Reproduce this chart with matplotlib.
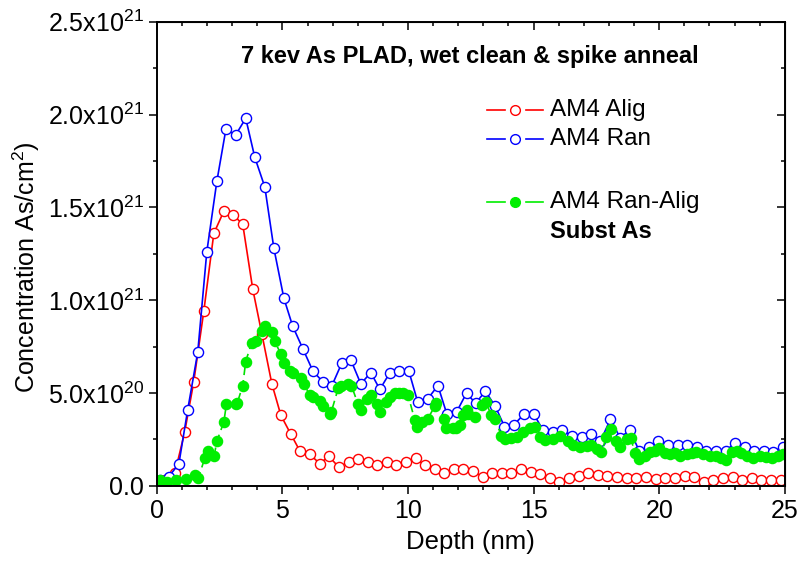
import numpy as np
import matplotlib
matplotlib.use("Agg")
from matplotlib import pyplot as plt
from matplotlib.ticker import MultipleLocator, FuncFormatter

plt.rcParams['font.family'] = ['Liberation Sans', 'DejaVu Sans']
plt.rcParams['mathtext.fontset'] = 'custom'
plt.rcParams['mathtext.rm'] = 'Liberation Sans'
plt.rcParams['mathtext.it'] = 'Liberation Sans'

# depth (nm) and concentration (units of 1e21 As/cm2)
alig_x = [0.33, 0.72, 1.11, 1.47, 1.87, 2.27, 2.67, 3.03, 3.42, 3.82,
          4.18, 4.58, 4.94, 5.33, 5.69, 6.09, 6.49, 6.85, 7.25, 7.64,
          8.0, 8.40, 8.76, 9.16, 9.51, 9.91, 10.31, 10.67, 11.07, 11.43,
          11.82, 12.20, 12.59, 12.97, 13.35, 13.73, 14.11, 14.50, 14.88, 15.26,
          15.64, 16.02, 16.41, 16.80, 17.17, 17.56, 17.94, 18.32, 18.70, 19.07,
          19.47, 19.86, 20.25, 20.62, 21.01, 21.39, 21.78, 22.16, 22.54, 22.93,
          23.30, 23.69, 24.07, 24.46, 24.84]
alig_y = [0.03, 0.07, 0.29, 0.56, 0.94, 1.36, 1.48, 1.46, 1.41, 1.06,
          0.82, 0.55, 0.38, 0.28, 0.19, 0.17, 0.12, 0.16, 0.10, 0.13,
          0.145, 0.13, 0.11, 0.13, 0.11, 0.13, 0.15, 0.11, 0.09, 0.07,
          0.09, 0.09, 0.08, 0.05, 0.07, 0.07, 0.07, 0.09, 0.075, 0.065,
          0.04, 0.02, 0.04, 0.055, 0.07, 0.06, 0.055, 0.05, 0.045, 0.045,
          0.05, 0.035, 0.045, 0.045, 0.055, 0.05, 0.02, 0.03, 0.045, 0.05,
          0.03, 0.045, 0.03, 0.03, 0.03]

ran_x = [0.12, 0.48, 0.88, 1.23, 1.63, 1.99, 2.39, 2.75, 3.14, 3.54,
         3.90, 4.30, 4.66, 5.06, 5.41, 5.81, 6.21, 6.61, 6.97, 7.36,
         7.72, 8.12, 8.52, 8.88, 9.28, 9.63, 10.03, 10.39, 10.79, 11.19,
         11.54, 11.94, 12.33, 12.69, 13.08, 13.47, 13.84, 14.22, 14.61, 15.01,
         15.38, 15.76, 16.15, 16.53, 16.92, 17.30, 17.66, 18.06, 18.44, 18.83,
         19.20, 19.59, 19.97, 20.36, 20.73, 21.11, 21.50, 21.88, 22.27, 22.65,
         23.02, 23.41, 23.79, 24.18, 24.55, 24.91]
ran_y = [0.03, 0.05, 0.12, 0.41, 0.72, 1.26, 1.64, 1.92, 1.89, 1.98,
         1.77, 1.61, 1.28, 1.01, 0.86, 0.74, 0.62, 0.56, 0.54, 0.66,
         0.68, 0.55, 0.61, 0.52, 0.61, 0.62, 0.62, 0.45, 0.47, 0.54,
         0.39, 0.40, 0.50, 0.445, 0.51, 0.43, 0.32, 0.33, 0.385, 0.385,
         0.30, 0.29, 0.30, 0.27, 0.265, 0.28, 0.24, 0.36, 0.26, 0.30,
         0.19, 0.21, 0.24, 0.22, 0.22, 0.22, 0.21, 0.19, 0.19, 0.19,
         0.23, 0.21, 0.19, 0.19, 0.185, 0.21]

diff_x = [0.12, 0.39, 0.78, 1.18, 1.51, 1.65, 1.91, 2.04, 2.28, 2.39,
          2.67, 2.77, 3.14, 3.20, 3.42, 3.54, 3.77, 3.94, 4.18, 4.31,
          4.57, 4.69, 4.94, 5.07, 5.29, 5.43, 5.76, 5.85, 6.09, 6.22,
          6.49, 6.60, 6.89, 6.95, 7.22, 7.35, 7.62, 7.75, 8.01, 8.12,
          8.35, 8.52, 8.77, 8.88, 9.14, 9.28, 9.47, 9.65, 9.80, 10.0,
          10.27, 10.36, 10.54, 10.78, 11.07, 11.13, 11.44, 11.53, 11.80, 11.93,
          12.06, 12.20, 12.33, 12.39, 12.66, 12.93, 13.10, 13.32, 13.46, 13.72,
          13.85, 14.12, 14.32, 14.58, 14.85, 15.05, 15.25, 15.45, 15.78, 16.04,
          16.37, 16.57, 16.84, 17.11, 17.30, 17.53, 17.70, 17.90, 18.10, 18.27,
          18.43, 18.70, 18.87, 19.03, 19.20, 19.43, 19.62, 19.82, 19.99, 20.22,
          20.42, 20.62, 20.82, 21.09, 21.29, 21.48, 21.75, 22.01, 22.28, 22.48,
          22.65, 22.88, 23.08, 23.27, 23.48, 23.74, 24.01, 24.27, 24.51, 24.73,
          24.93]
diff_y = [0.03, 0.02, 0.03, 0.035, 0.06, 0.04, 0.15, 0.19, 0.16, 0.24,
          0.345, 0.44, 0.44, 0.445, 0.54, 0.67, 0.77, 0.78, 0.835, 0.86,
          0.83, 0.78, 0.71, 0.66, 0.62, 0.61, 0.58, 0.55, 0.49, 0.48,
          0.46, 0.43, 0.39, 0.40, 0.525, 0.54, 0.55, 0.54, 0.44, 0.41,
          0.47, 0.49, 0.44, 0.40, 0.45, 0.48, 0.50, 0.50, 0.50, 0.49,
          0.355, 0.32, 0.345, 0.36, 0.43, 0.445, 0.36, 0.31, 0.31, 0.31,
          0.33, 0.38, 0.41, 0.39, 0.37, 0.435, 0.45, 0.38, 0.36, 0.27,
          0.25, 0.26, 0.265, 0.29, 0.31, 0.32, 0.265, 0.245, 0.25, 0.27,
          0.24, 0.22, 0.21, 0.215, 0.22, 0.20, 0.18, 0.265, 0.305, 0.24,
          0.21, 0.25, 0.26, 0.175, 0.145, 0.16, 0.18, 0.19, 0.205, 0.175,
          0.17, 0.175, 0.16, 0.17, 0.175, 0.185, 0.17, 0.16, 0.16, 0.15,
          0.14, 0.185, 0.19, 0.175, 0.16, 0.15, 0.16, 0.155, 0.15, 0.16,
          0.17]

fig = plt.figure(figsize=(8, 5.71), dpi=100)
ax = fig.add_axes([0.196, 0.149, 0.785, 0.813])

ax.plot(alig_x, np.array(alig_y) * 1e21, '-', color='#ff0000', lw=1.2,
        marker='o', ms=7.3, mfc='white', mec='#ff0000', mew=1.0)
ax.plot(ran_x, np.array(ran_y) * 1e21, '-', color='#0000ff', lw=1.2,
        marker='o', ms=7.3, mfc='white', mec='#0000ff', mew=1.0)
ax.plot(diff_x, np.array(diff_y) * 1e21, color='#00e000', lw=1.2,
        linestyle=(0, (5, 3)), marker='o', ms=7.3, mfc='#00ee00', mec='#00ee00')

ax.set_xlim(0, 25)
ax.set_ylim(0, 2.5e21)
ax.xaxis.set_major_locator(MultipleLocator(5))
ax.xaxis.set_minor_locator(MultipleLocator(1))
ax.yaxis.set_major_locator(MultipleLocator(0.5e21))
ax.yaxis.set_minor_locator(MultipleLocator(0.25e21))


def sci(v, pos):
    if v <= 0:
        return '0.0'
    e = int(np.floor(np.log10(v)))
    return '%.1fx10$^{%d}$' % (v / 10 ** e, e)


ax.yaxis.set_major_formatter(FuncFormatter(sci))
ax.tick_params(which='both', direction='out', top=False, right=False, width=1.1, labelsize=18)
ax.tick_params(which='major', length=6)
ax.tick_params(which='minor', length=3)
for s in ax.spines.values():
    s.set_linewidth(1.4)

# inward ticks on top and right
axt = ax.secondary_xaxis('top')
axt.xaxis.set_major_locator(MultipleLocator(5))
axt.xaxis.set_minor_locator(MultipleLocator(1))
axt.tick_params(which='both', direction='in', labeltop=False, width=1.1)
axt.tick_params(which='major', length=6)
axt.tick_params(which='minor', length=3)
axr = ax.secondary_yaxis('right')
axr.yaxis.set_major_locator(MultipleLocator(0.5e21))
axr.yaxis.set_minor_locator(MultipleLocator(0.25e21))
axr.tick_params(which='both', direction='in', labelright=False, width=1.1)
axr.tick_params(which='major', length=6)
axr.tick_params(which='minor', length=3)

ax.set_xlabel('Depth (nm)', fontsize=18.5, labelpad=5)
ax.set_ylabel('Concentration As/cm$^{2}$)', fontsize=18, labelpad=4, y=0.472)

ax.text(0.498, 0.924, '7 kev As PLAD, wet clean & spike anneal', transform=ax.transAxes,
        ha='center', va='center', fontsize=17, fontweight='bold')

# hand-made legend
legend_rows = [(0.810, '#ff0000', 'white', 'AM4 Alig'),
               (0.747, '#0000ff', 'white', 'AM4 Ran'),
               (0.612, '#00ee00', '#00ee00', 'AM4 Ran-Alig')]
for yy, c, fc, lab in legend_rows:
    ax.plot([0.525, 0.554], [yy, yy], color=c, lw=1.2, transform=ax.transAxes)
    ax.plot([0.588, 0.615], [yy, yy], color=c, lw=1.2, transform=ax.transAxes)
    ax.plot([0.570], [yy], 'o', ms=7, mfc=fc, mec=c, transform=ax.transAxes)
    ax.text(0.626, yy, lab, transform=ax.transAxes, ha='left', va='center', fontsize=17.5)
ax.text(0.626, 0.547, 'Subst As', transform=ax.transAxes, ha='left', va='center',
        fontsize=17, fontweight='bold')

fig.savefig('out.png', dpi=100)
